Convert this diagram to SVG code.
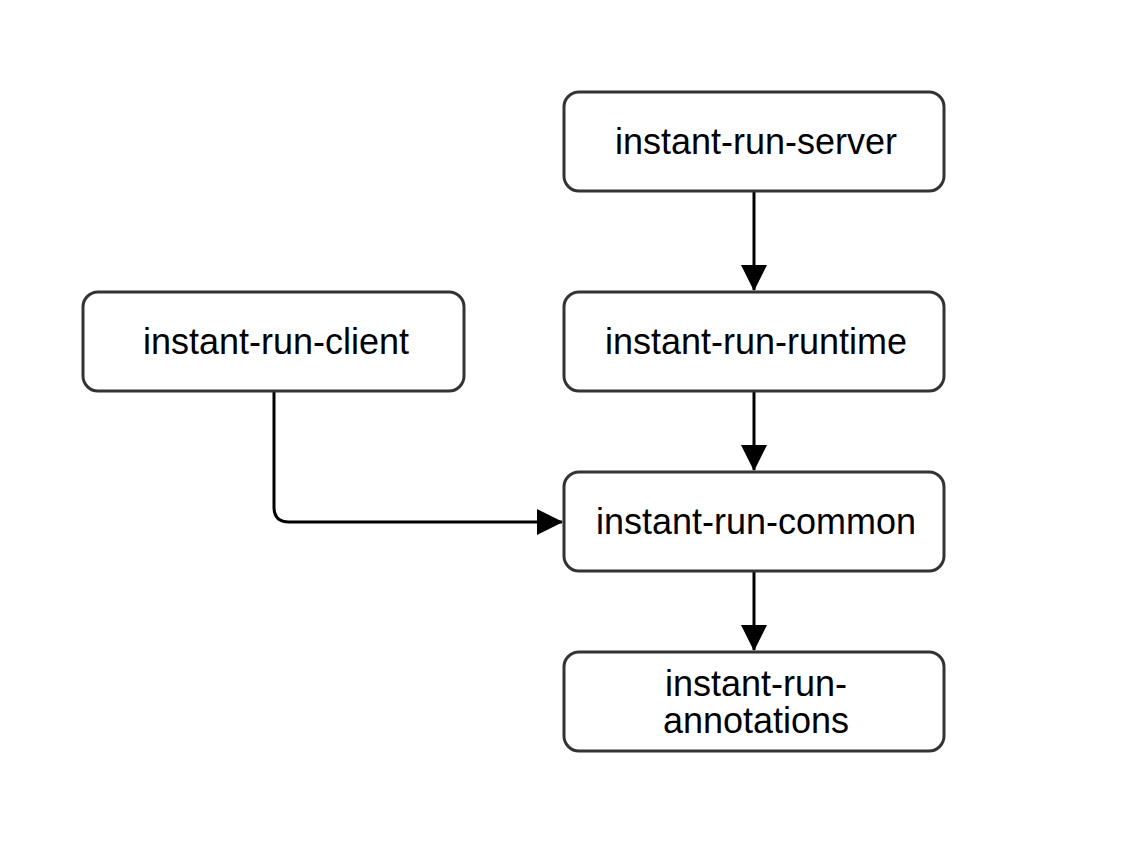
<svg xmlns="http://www.w3.org/2000/svg" width="1130" height="844" viewBox="0 0 1130 844">
<style>
.box{fill:#fff;stroke:#333;stroke-width:3}
.lbl{font-family:"Liberation Sans",Arial,sans-serif;font-size:36px;fill:#000;text-anchor:middle}
.edge{fill:none;stroke:#000;stroke-width:3}
</style>
<defs>
<marker id="arr" markerWidth="26" markerHeight="26" refX="25" refY="13" orient="auto" markerUnits="userSpaceOnUse">
<path d="M0,0 L26,13 L0,26 Z" fill="#000"/>
</marker>
</defs>
<rect width="1130" height="844" fill="#fff"/>
<g id="connectors">
<path class="edge" d="M754,192 V290" marker-end="url(#arr)"/>
<path class="edge" d="M754,392 V470" marker-end="url(#arr)"/>
<path class="edge" d="M754,572 V650" marker-end="url(#arr)"/>
<path class="edge" d="M274,392 V507 Q274,522 289,522 H562" marker-end="url(#arr)"/>
</g>
<g id="node-server">
<rect class="box" x="564" y="92" width="380" height="99" rx="15"/>
<text class="lbl" x="756" y="154">instant-run-server</text>
</g>
<g id="node-client">
<rect class="box" x="83" y="292" width="381" height="99" rx="15"/>
<text class="lbl" x="276" y="354">instant-run-client</text>
</g>
<g id="node-runtime">
<rect class="box" x="564" y="292" width="380" height="99" rx="15"/>
<text class="lbl" x="756" y="354">instant-run-runtime</text>
</g>
<g id="node-common">
<rect class="box" x="564" y="472" width="380" height="99" rx="15"/>
<text class="lbl" x="756" y="534">instant-run-common</text>
</g>
<g id="node-annotations">
<rect class="box" x="564" y="652" width="380" height="99" rx="15"/>
<text class="lbl" x="756" y="696">instant-run-</text>
<text class="lbl" x="756" y="733">annotations</text>
</g>
</svg>
